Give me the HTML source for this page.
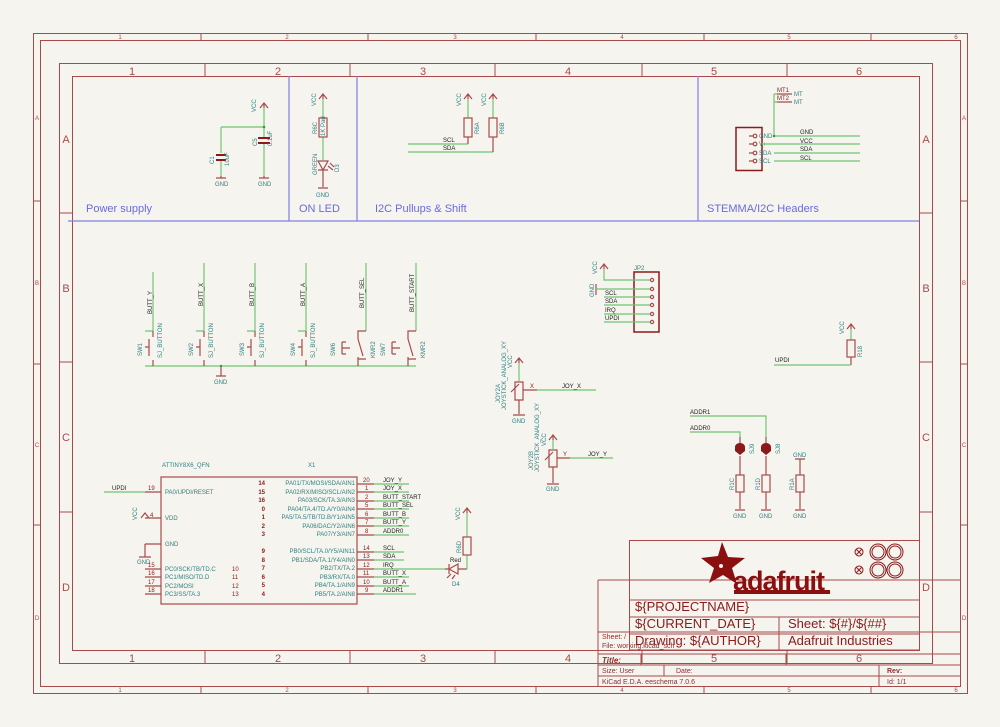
<!DOCTYPE html>
<html><head><meta charset="utf-8"><style>
html,body{margin:0;padding:0;background:#f5f4ef;}
svg{display:block;font-family:"Liberation Sans",sans-serif;}
.f{stroke:#a84a4a;fill:none;stroke-width:1}
.w{stroke:#72c472;fill:none;stroke-width:1.2}
.p{stroke:#a84a4a;fill:none;stroke-width:1.2}
.b{stroke:#8080e0;fill:none;stroke-width:1.2}
.t{fill:#2f8080;font-size:6px}
.k{fill:#222;font-size:6px}
.r{fill:#8b1a1a;font-size:6px}
.fr{fill:#a84a4a;font-size:11px;text-anchor:middle}
.fs{fill:#a84a4a;font-size:6px;text-anchor:middle}
.bl{fill:#6a6ae0;font-size:11px}
.tb{fill:#8b1a1a;font-size:13px}
.ts{fill:#8b3030;font-size:7px}
</style></head><body>
<svg width="1000" height="727" viewBox="0 0 1000 727" xmlns="http://www.w3.org/2000/svg">
<rect width="1000" height="727" fill="#f5f4ef"/>
<rect class="f" x="33.5" y="33.5" width="934" height="660"/>
<rect class="f" x="40.5" y="40.5" width="920" height="646"/>
<g class="f">
<path d="M201 33v7M368 33v7M536 33v7M704 33v7M871 33v7M201 687v7M368 687v7M536 687v7M704 687v7M871 687v7"/>
<path d="M33 201h7M33 364h7M33 525h7M960 201h7M960 364h7M960 525h7"/>
</g>
<g class="fs">
<text x="120" y="39">1</text><text x="287" y="39">2</text><text x="455" y="39">3</text><text x="622" y="39">4</text><text x="789" y="39">5</text><text x="956" y="39">6</text>
<text x="120" y="692">1</text><text x="287" y="692">2</text><text x="455" y="692">3</text><text x="622" y="692">4</text><text x="789" y="692">5</text><text x="956" y="692">6</text>
<text x="37" y="120">A</text><text x="37" y="285">B</text><text x="37" y="447">C</text><text x="37" y="620">D</text>
<text x="964" y="120">A</text><text x="964" y="285">B</text><text x="964" y="447">C</text><text x="964" y="620">D</text>
</g>
<rect class="f" x="59.5" y="63.5" width="873" height="600"/>
<rect class="f" x="72.5" y="76.5" width="847" height="574"/>
<g class="f">
<path d="M205 63v13M350 63v13M495 63v13M642 63v13M787 63v13M205 650v13M350 650v13M495 650v13M642 650v13M787 650v13"/>
<path d="M59 213h13M59 362h13M59 512h13M919 213h13M919 362h13M919 512h13"/>
</g>
<g class="fr">
<text x="132" y="75">1</text><text x="278" y="75">2</text><text x="423" y="75">3</text><text x="568" y="75">4</text><text x="714" y="75">5</text><text x="859" y="75">6</text>
<text x="132" y="662">1</text><text x="278" y="662">2</text><text x="423" y="662">3</text><text x="568" y="662">4</text><text x="714" y="662">5</text><text x="859" y="662">6</text>
<text x="66" y="143">A</text><text x="66" y="292">B</text><text x="66" y="441">C</text><text x="66" y="591">D</text>
<text x="926" y="143">A</text><text x="926" y="292">B</text><text x="926" y="441">C</text><text x="926" y="591">D</text>
</g>
<path class="b" d="M68 221H919M289 76V221M357 76V221M698 76V221"/>
<text class="bl" x="86" y="212">Power supply</text>
<text class="bl" x="299" y="212">ON LED</text>
<text class="bl" x="375" y="212">I2C Pullups &amp; Shift</text>
<text class="bl" x="707" y="212">STEMMA/I2C Headers</text>

<path class="w" d="M264 108V138M264 144V176M221 127H264M221 127V153M221 160V176"/>
<circle cx="264" cy="127" r="1.3" fill="#3a9a3a"/>
<path class="p" d="M260 108L264 103L268 108M264 103V108"/>
<path d="M258 138h12M258 143h12M216 155h10M216 160h10" stroke="#8b1a1a" stroke-width="2"/>
<path class="p" d="M216 178h10M221 176v2M259 178h10M264 176v2"/>
<text class="t" font-size="9" transform="translate(256,112) rotate(-90)">VCC</text>
<text class="t" x="215" y="186">GND</text><text class="t" x="258" y="186">GND</text>
<text class="t" transform="translate(257,146) rotate(-90)">C5</text>
<text class="t" transform="translate(272,146) rotate(-90)">0.1uF</text>
<text class="t" transform="translate(214,164) rotate(-90)">C1</text>
<text class="t" transform="translate(229,166) rotate(-90)">10uF</text>

<path class="p" d="M319 99L323 94L327 99M323 94V99"/>
<path class="w" d="M323 99V118M323 137V160"/>
<rect class="p" x="319" y="118" width="8" height="19"/>
<path class="p" d="M318 161h10l-5 9z M318 170h10M323 170v17M318 188h10M328 166l5 4M330 163l4 4"/>
<text class="t" font-size="9" transform="translate(316,106) rotate(-90)">VCC</text>
<text class="t" font-size="9" x="316" y="197">GND</text>
<text class="t" transform="translate(317,134) rotate(-90)">R6C</text>
<text class="t" font-size="5" transform="translate(325,136) rotate(-90)">1K Pad</text>
<text class="t" font-size="5" transform="translate(317,175) rotate(-90)">GREEN</text>
<text class="t" transform="translate(339,172) rotate(-90)">D3</text>

<path class="p" d="M464 99L468 94L472 99M468 94V99M489 99L493 94L497 99M493 94V99"/>
<path class="w" d="M468 99V118M493 99V118M408 144H468M408 152H493"/>
<path class="p" d="M468 137V144M493 137V152"/>
<rect class="p" x="464" y="118" width="8" height="19"/><rect class="p" x="489" y="118" width="8" height="19"/>
<text class="t" font-size="9" transform="translate(461,106) rotate(-90)">VCC</text>
<text class="t" font-size="9" transform="translate(486,106) rotate(-90)">VCC</text>
<text class="t" transform="translate(479,134) rotate(-90)">R6A</text>
<text class="t" transform="translate(504,134) rotate(-90)">R6B</text>
<text class="k" x="443" y="142">SCL</text><text class="k" x="443" y="150">SDA</text>

<path class="p" d="M777 94h15M777 102h15"/>
<text class="r" x="777" y="92">MT1</text><text class="r" x="777" y="100">MT2</text>
<text class="t" x="794" y="96">MT</text><text class="t" x="794" y="104">MT</text>
<path class="w" d="M774 94V136M774 94h3M774 102h3"/>
<rect x="736" y="127.5" width="26" height="43" fill="none" stroke="#8b1a1a" stroke-width="1.5"/>
<g class="p"><path d="M749 136h4M749 144h4M749 153h4M749 161h4"/>
<circle cx="755" cy="136" r="1.8"/><circle cx="755" cy="144" r="1.8"/><circle cx="755" cy="153" r="1.8"/><circle cx="755" cy="161" r="1.8"/></g>
<text class="t" x="759" y="138">GND</text><text class="t" x="759" y="146">V+</text><text class="t" x="759" y="155">SDA</text><text class="t" x="759" y="163">SCL</text>
<path class="w" d="M774 136H860M762 144H860M774 153H860M774 161H860"/>
<circle cx="774" cy="136" r="1.3" fill="#3a9a3a"/>
<text class="k" x="800" y="134">GND</text><text class="k" x="800" y="143">VCC</text><text class="k" x="800" y="151">SDA</text><text class="k" x="800" y="160">SCL</text>

<path class="w" d="M145 366H416M153 272V331M204 263V331M255 263V331M306 263V331M366 263V331M416 263V331"/>
<g class="w"><path d="M145 331h8M196 331h8M247 331h8M298 331h8"/></g>
<g class="p">
<path d="M149 339v17M145 347h4M200 339v17M196 347h4M251 339v17M247 347h4M302 339v17M298 347h4"/>
<path d="M153 331v6M153 360v6M204 331v6M204 360v6M255 331v6M255 360v6M306 331v6M306 360v6"/>
<path d="M366 331h-8v8M358 357v9M366 359h-8M358 339l5 17M342 342v12M342 348h8M342 342h4M342 354h4"/>
<path d="M416 331h-8v8M408 357v9M416 359h-8M408 339l5 17M392 342v12M392 348h8M392 342h4M392 354h4"/>
<path d="M216 376h10M221 366v10"/>
</g>
<circle cx="221" cy="366" r="1.2" fill="#3a9a3a"/>
<text class="t" font-size="9" x="214" y="384">GND</text>
<g class="k">
<text transform="translate(152,314) rotate(-90)">BUTT_Y</text>
<text transform="translate(203,306) rotate(-90)">BUTT_X</text>
<text transform="translate(254,306) rotate(-90)">BUTT_B</text>
<text transform="translate(305,306) rotate(-90)">BUTT_A</text>
<text transform="translate(364,308) rotate(-90)">BUTT_SEL</text>
<text transform="translate(414,312) rotate(-90)">BUTT_START</text>
</g>
<g class="t" font-size="5.5">
<text transform="translate(162,358) rotate(-90)">SJ_BUTTON</text>
<text transform="translate(213,358) rotate(-90)">SJ_BUTTON</text>
<text transform="translate(264,358) rotate(-90)">SJ_BUTTON</text>
<text transform="translate(315,358) rotate(-90)">SJ_BUTTON</text>
<text transform="translate(142,356) rotate(-90)">SW1</text>
<text transform="translate(193,356) rotate(-90)">SW2</text>
<text transform="translate(244,356) rotate(-90)">SW3</text>
<text transform="translate(295,356) rotate(-90)">SW4</text>
<text transform="translate(335,356) rotate(-90)">SW6</text>
<text transform="translate(385,356) rotate(-90)">SW7</text>
<text transform="translate(375,358) rotate(-90)">KMR2</text>
<text transform="translate(425,358) rotate(-90)">KMR2</text>
</g>

<rect x="634" y="272" width="25" height="60" fill="none" stroke="#8b1a1a" stroke-width="1.5"/>
<text class="t" font-size="9" x="634" y="270">JP2</text>
<path class="p" d="M600 269L604 264L608 269M604 264V269M596 284v11"/>
<path class="w" d="M604 269V280H651M596 289H651M604 297H651M604 305H651M604 314H651M604 322H651"/>
<g class="p"><circle cx="652" cy="280" r="1.6"/><circle cx="652" cy="289" r="1.6"/><circle cx="652" cy="297" r="1.6"/><circle cx="652" cy="305" r="1.6"/><circle cx="652" cy="314" r="1.6"/><circle cx="652" cy="322" r="1.6"/></g>
<text class="t" font-size="9" transform="translate(597,274) rotate(-90)">VCC</text>
<text class="t" font-size="9" transform="translate(594,297) rotate(-90)">GND</text>
<text class="k" x="605" y="295">SCL</text><text class="k" x="605" y="303">SDA</text><text class="k" x="605" y="312">IRQ</text><text class="k" x="605" y="320">UPDI</text>

<path class="p" d="M847 329L851 324L855 329M851 324V329M851 357V365"/>
<path class="w" d="M851 329V340M774 365H851"/>
<rect class="p" x="847" y="340" width="8" height="17"/>
<text class="t" font-size="9" transform="translate(844,334) rotate(-90)">VCC</text>
<text class="t" transform="translate(862,357) rotate(-90)">R18</text>
<text class="k" x="775" y="362">UPDI</text>

<path class="p" d="M515 363L519 358L523 363M519 358V363M515 382h8v18h-8zM519 400v14M513 415h12M523 390h14M511 392l8-8M549 440L553 435L557 440M553 435V440M549 450h8v17h-8zM553 467v16M547 484h12M557 458h13M545 460l8-8"/>
<path class="w" d="M519 363V382M537 390H596M553 440V450M570 458H613"/>
<text class="k" x="562" y="388">JOY_X</text><text class="k" x="588" y="456">JOY_Y</text>
<text class="r" x="530" y="388">X</text><text class="r" x="563" y="456">Y</text>
<text class="t" font-size="9" x="512" y="423">GND</text><text class="t" font-size="9" x="546" y="491">GND</text>
<g class="t" font-size="5"><text transform="translate(500,403) rotate(-90)">JOY2A</text>
<text transform="translate(506,410) rotate(-90)">JOYSTICK_ANALOG_XY</text>
<text transform="translate(512,368) rotate(-90)">VCC</text>
<text transform="translate(533,470) rotate(-90)">JOY2B</text>
<text transform="translate(539,472) rotate(-90)">JOYSTICK_ANALOG_XY</text>
<text transform="translate(546,446) rotate(-90)">VCC</text></g>

<path class="w" d="M690 416H766V437M690 432H740V437"/>
<path class="p" d="M740 437V444M766 437V444M740 456V475M766 456V475M740 492V509M766 492V509M800 459V475M800 492V509M735 510h10M761 510h10M795 510h10M795 459h10"/>
<path d="M735 447a5 4 0 0 1 10 0v4l-5 4l-5-4z M761 447a5 4 0 0 1 10 0v4l-5 4l-5-4z" fill="#8b1a1a"/>
<rect class="p" x="736" y="475" width="8" height="17"/><rect class="p" x="762" y="475" width="8" height="17"/><rect class="p" x="796" y="475" width="8" height="17"/>
<text class="k" x="690" y="414">ADDR1</text><text class="k" x="690" y="430">ADDR0</text>
<g class="t" font-size="5.5"><text transform="translate(754,454) rotate(-90)">SJ9</text><text transform="translate(780,454) rotate(-90)">SJ8</text>
<text transform="translate(734,490) rotate(-90)">R1C</text><text transform="translate(760,490) rotate(-90)">R1D</text><text transform="translate(794,490) rotate(-90)">R1A</text></g>
<g class="t" font-size="9"><text x="733" y="518">GND</text><text x="759" y="518">GND</text><text x="793" y="518">GND</text><text x="793" y="457">GND</text></g>

<rect class="p" x="161" y="477" width="196" height="127"/>
<text class="t" font-size="7.5" x="162" y="467">ATTINY8X6_QFN</text>
<text class="t" font-size="7.5" x="308" y="467">X1</text>
<path class="w" d="M104 492H145"/>
<text class="k" x="112" y="490">UPDI</text>
<path class="p" d="M145 492h16M145 518h16M145 544h16M145 544v13M139 557h12M145 569h16M145 577h16M145 586h16M145 594h16M141 518l4-5l4 5"/>
<text class="t" font-size="9" transform="translate(137,520) rotate(-90)">VCC</text>
<text class="t" font-size="9" x="137" y="564">GND</text>
<g class="r"><text x="148" y="490">19</text><text x="150" y="517">4</text><text x="148" y="567">15</text><text x="148" y="575">16</text><text x="148" y="584">17</text><text x="148" y="592">18</text>
<text x="232" y="571">10</text><text x="232" y="579">11</text><text x="232" y="588">12</text><text x="232" y="596">13</text></g>
<g class="t"><text x="165" y="494">PA0/UPDI/RESET</text><text x="165" y="520">VDD</text><text x="165" y="546">GND</text>
<text x="165" y="571">PC0/SCK/TB/TD.C</text><text x="165" y="579">PC1/MISO/TD.D</text><text x="165" y="588">PC2/MOSI</text><text x="165" y="596">PC3/SS/TA.3</text></g>
<g class="t" text-anchor="end">
<text x="355" y="485">PA01/TX/MOSI/SDA/AIN1</text><text x="355" y="494">PA02/RX/MISO/SCL/AIN2</text><text x="355" y="502">PA03/SCK/TA.3/AIN3</text><text x="355" y="511">PA04/TA.4/TD.A/Y0/AIN4</text><text x="355" y="519">PA5/TA.5/TB/TD.B/Y1/AIN5</text><text x="355" y="528">PA06/DAC/Y2/AIN6</text><text x="355" y="536">PA07/Y3/AIN7</text>
<text x="355" y="553">PB0/SCL/TA.0/Y5/AIN11</text><text x="355" y="562">PB1/SDA/TA.1/Y4/AIN0</text><text x="355" y="570">PB2/TX/TA.2</text><text x="355" y="579">PB3/RX/TA.0</text><text x="355" y="587">PB4/TA.1/AIN9</text><text x="355" y="596">PB5/TA.2/AIN8</text></g>
<g class="r" text-anchor="end" font-weight="bold">
<text x="265" y="485">14</text><text x="265" y="494">15</text><text x="265" y="502">16</text><text x="265" y="511">0</text><text x="265" y="519">1</text><text x="265" y="528">2</text><text x="265" y="536">3</text>
<text x="265" y="553">9</text><text x="265" y="562">8</text><text x="265" y="570">7</text><text x="265" y="579">6</text><text x="265" y="587">5</text><text x="265" y="596">4</text></g>
<path class="p" d="M357 484h17M357 492h17M357 501h17M357 509h17M357 518h17M357 526h17M357 535h17M357 552h17M357 560h17M357 569h17M357 577h17M357 586h17M357 594h17"/>
<path class="w" d="M374 484h35M374 492h35M374 501h35M374 509h35M374 518h35M374 526h35M374 535h35M374 552h30M374 560h30M374 569h71M374 577h35M374 586h35M374 594h42"/>
<g class="r"><text x="363" y="482">20</text><text x="365" y="490">1</text><text x="365" y="499">2</text><text x="365" y="507">5</text><text x="365" y="516">6</text><text x="365" y="524">7</text><text x="365" y="533">8</text>
<text x="363" y="550">14</text><text x="363" y="558">13</text><text x="363" y="567">12</text><text x="363" y="575">11</text><text x="363" y="584">10</text><text x="365" y="592">9</text></g>
<g class="k"><text x="383" y="482">JOY_Y</text><text x="383" y="490">JOY_X</text><text x="383" y="499">BUTT_START</text><text x="383" y="507">BUTT_SEL</text><text x="383" y="516">BUTT_B</text><text x="383" y="524">BUTT_Y</text><text x="383" y="533">ADDR0</text>
<text x="383" y="550">SCL</text><text x="383" y="558">SDA</text><text x="383" y="567">IRQ</text><text x="383" y="575">BUTT_X</text><text x="383" y="584">BUTT_A</text><text x="383" y="592">ADDR1</text></g>
<path class="p" d="M445 569h4M449 564v10M449 569l9-5v10z M458 569h9M463 513L467 508L471 513M467 508V513M451 574l-4 4M455 575l-3 4"/>
<path class="w" d="M467 513V537M467 555V569"/>
<rect class="p" x="463" y="537" width="8" height="18"/>
<text class="t" font-size="9" transform="translate(460,520) rotate(-90)">VCC</text>
<text class="k" x="450" y="562">Red</text><text class="t" x="452" y="586">D4</text>
<text class="t" transform="translate(461,553) rotate(-90)">R6D</text>

<g class="f">
<path d="M598 580H960M598 580V687M598 632H960M598 654H960M598 665H960M598 676H960M641 654V665M786 654V665M664 665V676M879 665V687"/>
</g>
<g class="ts"><text x="602" y="639">Sheet: /</text><text x="602" y="648">File: working.kicad_sch</text>
<text x="602" y="663" font-weight="bold" font-style="italic" font-size="8">Title:</text>
<text x="602" y="673">Size: User</text><text x="676" y="673">Date:</text>
<text x="602" y="684">KiCad E.D.A.  eeschema 7.0.6</text>
<text x="887" y="673" font-weight="bold">Rev:</text><text x="887" y="684">Id: 1/1</text></g>
<g class="f"><path d="M629.5 540.5H919.5V650H629.5ZM629 600H919M629 617H919M629 634H919M779 617V650"/></g>
<text class="tb" x="635" y="611">${PROJECTNAME}</text>
<text class="tb" x="635" y="628">${CURRENT_DATE}</text>
<text class="tb" x="788" y="628">Sheet: ${#}/${##}</text>
<text class="tb" x="635" y="645">Drawing: ${AUTHOR}</text>
<text class="tb" x="788" y="645">Adafruit Industries</text>
<path d="M722 542L728 557L745 558L732 568L737 584L723 575L709 583L714 568L701 558L718 556Z" fill="#8b0f0f"/>
<circle cx="721" cy="566" r="2" fill="#f5f4ef"/>
<text x="733" y="590" font-size="27" font-weight="bold" fill="#8b0f0f" letter-spacing="-1">adafruit</text>
<rect x="734" y="590" width="96" height="4" fill="#8b0f0f"/>
<g stroke="#8b1a1a" fill="none"><circle cx="859" cy="552" r="4"/><circle cx="859" cy="570" r="4"/>
<path d="M856 549l6 6M862 549l-6 6M856 567l6 6M862 567l-6 6"/>
<circle cx="878" cy="552" r="8"/><circle cx="878" cy="552" r="6"/><circle cx="895" cy="552" r="8"/><circle cx="895" cy="552" r="6"/>
<circle cx="878" cy="570" r="8"/><circle cx="878" cy="570" r="6"/><circle cx="895" cy="570" r="8"/><circle cx="895" cy="570" r="6"/></g>
</svg>
</body></html>
